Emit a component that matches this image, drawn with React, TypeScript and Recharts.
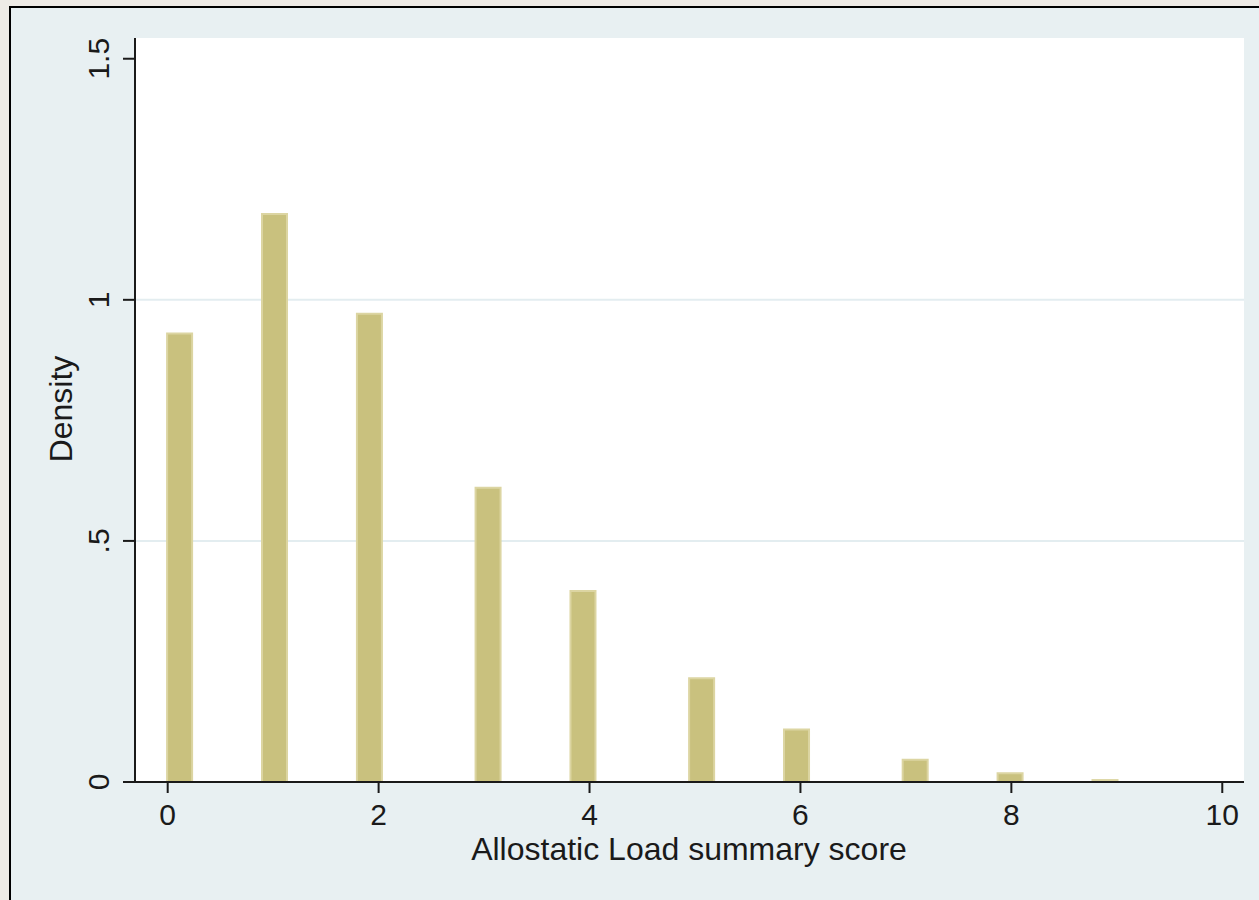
import { BarChart, Bar, XAxis, YAxis, CartesianGrid } from "recharts";

// bin midpoints (Allostatic Load score) and density heights
const binMid = [0.1125, 1.0125, 1.9125, 3.0375, 3.9375, 5.0625, 5.9625, 7.0875, 7.9875, 8.8875];
const density = [0.93, 1.178, 0.971, 0.61, 0.396, 0.215, 0.109, 0.046, 0.018, 0.004];

const xTicks = [0, 2, 4, 6, 8, 10];
const yTicks = [0, 0.5, 1, 1.5];
const yTickLabels = ["0", ".5", "1", "1.5"];
const gridValues = [0.5, 1];

const data = binMid.map((x, i) => ({ x, density: density[i] }));

const FONT = "'Liberation Sans', Arial, Helvetica, sans-serif";
const INK = "#1a1a1a";

function XTick(props: any) {
  const { x, y, payload } = props;
  return (
    <text x={x} y={y + 30} textAnchor="middle" fontFamily={FONT} fontSize={30} fill={INK}>
      {payload.value}
    </text>
  );
}

function YTick(props: any) {
  const { y, payload } = props;
  const idx = yTicks.indexOf(payload.value);
  const bx = 109;
  return (
    <text
      x={bx}
      y={y}
      transform={`rotate(-90, ${bx}, ${y})`}
      textAnchor="middle"
      fontFamily={FONT}
      fontSize={30}
      fill={INK}
    >
      {idx >= 0 ? yTickLabels[idx] : payload.value}
    </text>
  );
}

export default function App() {
  return (
    <div style={{ position: "fixed", left: 0, top: 0, width: 1259, height: 900, background: "#eeebe6", overflow: "hidden" }}>
      <div
        style={{
          position: "absolute",
          left: 9,
          top: 6,
          width: 1400,
          height: 1000,
          background: "#e8f0f2",
          borderLeft: "2px solid #000",
          borderTop: "2px solid #000",
        }}
      />
      <div style={{ position: "absolute", left: 0, top: 0 }}>
        <BarChart width={1259} height={900} data={data} margin={{ top: 38, right: 15, bottom: 0, left: 0 }}>
          <CartesianGrid
            vertical={false}
            horizontalValues={gridValues}
            stroke="#e3edf0"
            strokeWidth={2}
            fill="#ffffff"
            fillOpacity={1}
          />
          <XAxis
            dataKey="x"
            type="number"
            domain={[-0.31, 10.206]}
            ticks={xTicks}
            allowDataOverflow
            height={118}
            tickSize={11}
            axisLine={{ stroke: INK, strokeWidth: 2 }}
            tickLine={{ stroke: INK, strokeWidth: 2 }}
            tick={<XTick />}
            interval={0}
          />
          <YAxis
            type="number"
            domain={[0, 1.543]}
            ticks={yTicks}
            allowDataOverflow
            width={135}
            tickSize={12}
            axisLine={{ stroke: INK, strokeWidth: 2 }}
            tickLine={{ stroke: INK, strokeWidth: 2 }}
            tick={<YTick />}
            interval={0}
          />
          <Bar
            dataKey="density"
            fill="#c9c17e"
            stroke="#dcd5a2"
            strokeWidth={2}
            barSize={25}
            isAnimationActive={false}
          />
          <text
            x={72}
            y={409}
            transform="rotate(-90, 72, 409)"
            textAnchor="middle"
            fontFamily={FONT}
            fontSize={32}
            fill={INK}
          >
            Density
          </text>
          <text x={689} y={860} textAnchor="middle" fontFamily={FONT} fontSize={32} fill={INK}>
            Allostatic Load summary score
          </text>
        </BarChart>
      </div>
    </div>
  );
}
